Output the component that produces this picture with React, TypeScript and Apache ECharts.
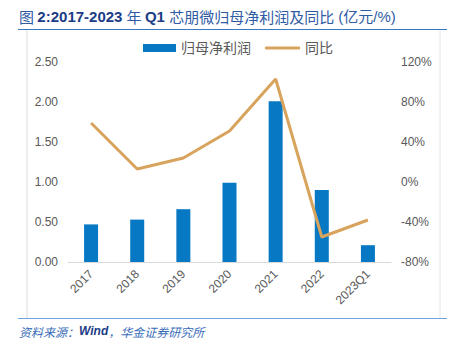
import React, { useEffect, useRef } from "react";
import * as echarts from "echarts";

const categories = ["2017", "2018", "2019", "2020", "2021", "2022", "2023Q1"];
const profit = [0.47, 0.53, 0.66, 0.99, 2.01, 0.9, 0.21];
const yoy = [59, 13, 24, 51, 103, -55, -38];
const leftTicks = [0, 0.5, 1, 1.5, 2, 2.5];
const rightTicks = [-80, -40, 0, 40, 80, 120];

const BAR = "#0678C4";
const LINE = "#D8A35C";
const LABEL = "#595959";

export default function App() {
  const ref = useRef<HTMLDivElement>(null);
  useEffect(() => {
    if (!ref.current) return;
    const chart = echarts.init(ref.current, null, { renderer: "svg" });
    const cjk = "'Liberation Sans', 'Noto Sans CJK SC', sans-serif";
    chart.setOption({
      animation: false,
      backgroundColor: "#ffffff",
      textStyle: { fontFamily: cjk },
      grid: { left: 68, right: 65, top: 62, bottom: 89, containLabel: false },
      legend: [
        {
          left: 138,
          top: 36,
          itemWidth: 33,
          itemHeight: 8,
          textStyle: { fontSize: 14, color: LABEL, fontFamily: cjk },
          data: [{ name: "归母净利润", icon: "rect" }],
        },
        {
          left: 260,
          top: 36,
          itemWidth: 35,
          itemHeight: 3,
          textStyle: { fontSize: 14, color: LABEL, fontFamily: cjk },
          data: [{ name: "同比", icon: "roundRect" }],
        },
      ],
      xAxis: {
        type: "category",
        data: categories,
        axisLine: { show: true, lineStyle: { color: "#d9d9d9", width: 1 } },
        axisTick: { show: false },
        axisLabel: { rotate: 45, color: LABEL, fontSize: 12, margin: 10, fontFamily: cjk },
      },
      yAxis: [
        {
          type: "value",
          min: leftTicks[0],
          max: leftTicks[leftTicks.length - 1],
          interval: 0.5,
          splitLine: { show: false },
          axisLine: { show: false },
          axisTick: { show: false },
          axisLabel: {
            color: LABEL,
            fontSize: 12,
            margin: 10,
            fontFamily: cjk,
            formatter: (v: number) => v.toFixed(2),
          },
        },
        {
          type: "value",
          min: rightTicks[0],
          max: rightTicks[rightTicks.length - 1],
          interval: 40,
          splitLine: { show: false },
          axisLine: { show: false },
          axisTick: { show: false },
          axisLabel: {
            color: LABEL,
            fontSize: 12,
            margin: 10,
            fontFamily: cjk,
            formatter: (v: number) => v + "%",
          },
        },
      ],
      series: [
        {
          name: "归母净利润",
          type: "bar",
          data: profit,
          barWidth: 14,
          itemStyle: { color: BAR },
          yAxisIndex: 0,
        },
        {
          name: "同比",
          type: "line",
          data: yoy,
          yAxisIndex: 1,
          symbol: "none",
          lineStyle: { color: LINE, width: 3 },
          itemStyle: { color: LINE },
        },
      ],
      graphic: [
        {
          type: "text",
          left: 19,
          top: 9,
          style: {
            text: "{c|图 }{n|2:2017-2023 }{c|年 }{n|Q1 }{c|芯朋微归母净利润及同比}{p| (亿元/%)}",
            rich: {
              c: { fontSize: 15, fill: "#2F5BA5", fontFamily: "'Noto Sans CJK SC', sans-serif" },
              n: { fontSize: 15, fill: "#1B3C86", fontFamily: "'Liberation Sans', sans-serif", fontWeight: "bold" },
              p: { fontSize: 15, fill: "#2F5BA5", fontFamily: "'Liberation Sans', 'Noto Sans CJK SC', sans-serif" },
            },
          },
        },
        {
          type: "line",
          shape: { x1: 18, y1: 29.5, x2: 447, y2: 29.5 },
          style: { stroke: "#3A78C2", lineWidth: 1.2 },
        },
        {
          type: "line",
          shape: { x1: 27, y1: 30, x2: 27, y2: 318 },
          style: { stroke: "#dcdcdc", lineWidth: 1 },
        },
        {
          type: "line",
          shape: { x1: 440, y1: 30, x2: 440, y2: 318 },
          style: { stroke: "#e4e4e4", lineWidth: 1 },
        },
        {
          type: "line",
          shape: { x1: 18, y1: 318.5, x2: 447, y2: 318.5 },
          style: { stroke: "#6FA3DA", lineWidth: 1.2 },
        },
        {
          type: "text",
          left: 19,
          top: 325,
          style: {
            text: "{c|资料来源：}{n|Wind}{c|，华金证券研究所}",
            rich: {
              c: { fontSize: 12, fill: "#3A6DB8", fontStyle: "italic", fontFamily: "'Noto Sans CJK SC', sans-serif" },
              n: { fontSize: 12, fill: "#1B3C86", fontStyle: "italic", fontWeight: "bold", fontFamily: "'Liberation Sans', sans-serif" },
            },
          },
        },
      ],
    });
    return () => chart.dispose();
  }, []);
  return (
    <div
      ref={ref}
      style={{ position: "absolute", left: 0, top: 0, width: 456, height: 351 }}
    />
  );
}
